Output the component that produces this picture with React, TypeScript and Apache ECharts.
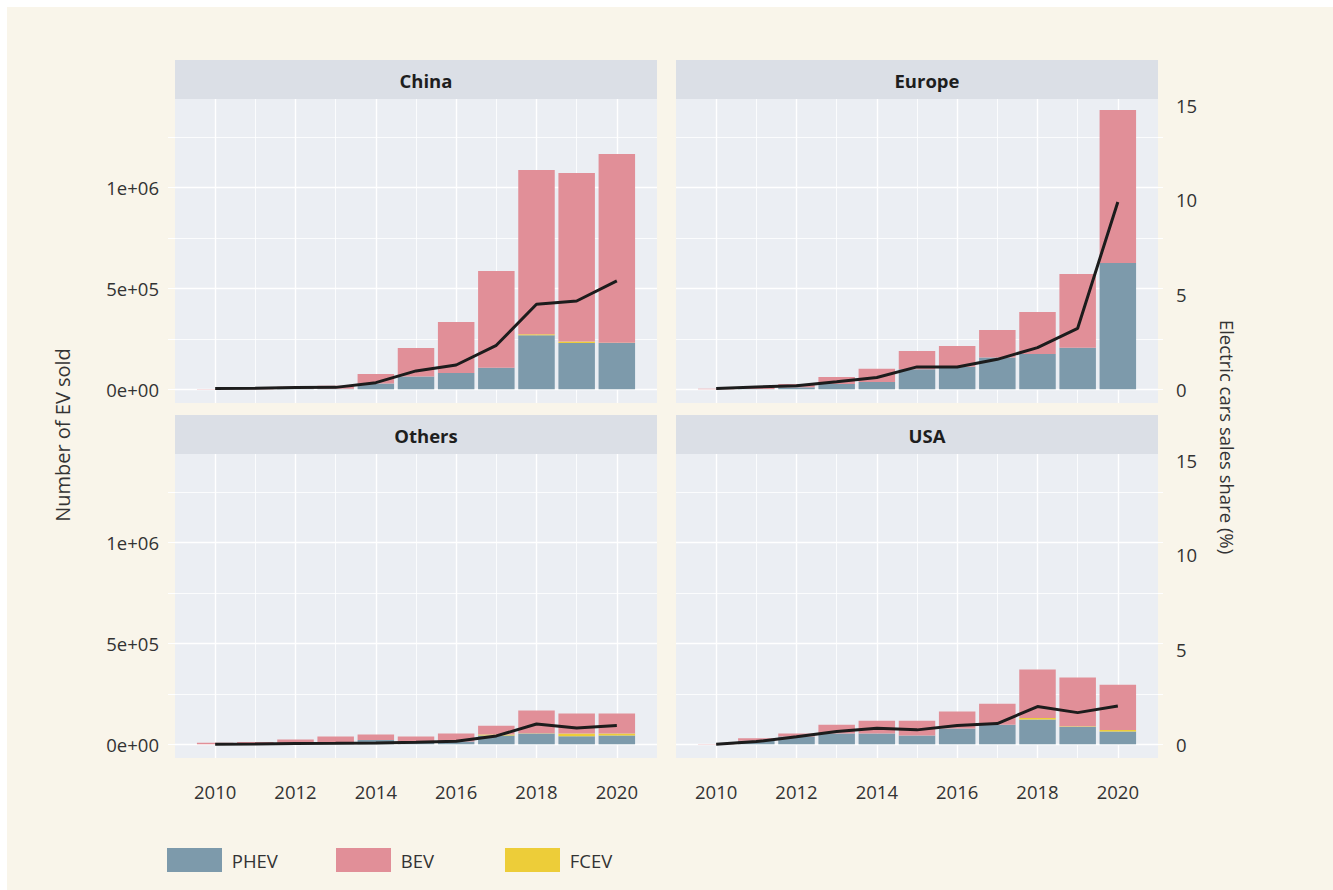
import React, { useEffect, useRef } from 'react';
import * as echarts from 'echarts';

const years = [2010, 2011, 2012, 2013, 2014, 2015, 2016, 2017, 2018, 2019, 2020];
// x scale spans one year beyond the data on each side
const xCategories = ['2009', '2010', '2011', '2012', '2013', '2014', '2015', '2016', '2017', '2018', '2019', '2020', '2021'];
const regions = ['China', 'Europe', 'Others', 'USA'];
const powertrains = ['PHEV', 'FCEV', 'BEV'];
const legendNames = ['PHEV', 'BEV', 'FCEV'];

// Number of EV sold
const chinaPHEV = [0, 0, 2000, 3000, 28000, 63000, 81000, 107000, 268000, 229000, 229000];
const chinaFCEV = [0, 0, 0, 0, 0, 0, 0, 0, 4000, 8000, 1000];
const chinaBEV = [1000, 5000, 10000, 15000, 48000, 141000, 252000, 479000, 814000, 834000, 935000];

const europePHEV = [0, 1000, 10000, 26000, 36000, 99000, 112000, 157000, 175000, 205000, 625000];
const europeFCEV = [0, 0, 0, 0, 0, 0, 0, 0, 0, 0, 0];
const europeBEV = [3000, 9000, 16000, 35000, 65000, 91000, 102000, 137000, 208000, 366000, 758000];

const othersPHEV = [0, 1000, 5000, 11000, 21000, 12000, 14000, 43000, 53000, 40000, 43000];
const othersFCEV = [0, 0, 0, 0, 0, 0, 0, 5000, 1000, 13000, 10000];
const othersBEV = [8000, 10000, 18000, 27000, 27000, 26000, 39000, 44000, 113000, 99000, 99000];

const usaPHEV = [300, 18000, 38000, 53000, 53000, 43000, 78000, 97000, 122000, 87000, 63000];
const usaFCEV = [0, 0, 0, 0, 0, 0, 0, 0, 8000, 2000, 8000];
const usaBEV = [700, 12000, 15000, 44000, 64000, 74000, 84000, 104000, 240000, 241000, 224000];

// Electric cars sales share (%)
const chinaShare = [0.04, 0.05, 0.09, 0.1, 0.35, 0.97, 1.28, 2.32, 4.49, 4.66, 5.72];
const europeShare = [0.04, 0.12, 0.19, 0.4, 0.62, 1.18, 1.18, 1.58, 2.2, 3.22, 9.89];
const othersShare = [0, 0.01, 0.04, 0.05, 0.07, 0.1, 0.16, 0.44, 1.07, 0.86, 0.99];
const usaShare = [0, 0.14, 0.4, 0.67, 0.84, 0.76, 0.99, 1.09, 1.99, 1.67, 2.02];

// Axis ticks
const yTickMajor = [0, 500000, 1000000];
const yTickMinor = [250000, 750000, 1250000];
const shareTickLabels = [0, 5, 10, 15];
const xTickMajor = ['2010', '2012', '2014', '2016', '2018', '2020'];
const xTickMinor = ['2011', '2013', '2015', '2017', '2019'];

const Y_MIN = -68000;
const Y_MAX = 1437000;
const SHARE_SCALE = 93762; // EV sold per percentage point on the secondary axis

const salesByRegion: Record<string, Record<string, number[]>> = {
  China: { PHEV: chinaPHEV, FCEV: chinaFCEV, BEV: chinaBEV },
  Europe: { PHEV: europePHEV, FCEV: europeFCEV, BEV: europeBEV },
  Others: { PHEV: othersPHEV, FCEV: othersFCEV, BEV: othersBEV },
  USA: { PHEV: usaPHEV, FCEV: usaFCEV, BEV: usaBEV },
};
const shareByRegion: Record<string, number[]> = {
  China: chinaShare,
  Europe: europeShare,
  Others: othersShare,
  USA: usaShare,
};

const COLORS: Record<string, string> = { PHEV: '#7d9aab', BEV: '#e18f98', FCEV: '#edcd39' };
const FONT = "'Open Sans', sans-serif";
const TEXT = '#333333';
const PANEL_BG = '#ebeef3';
const STRIP_BG = '#dbdfe6';
const GRID_W = 482;
const GRID_H = 304;
const STRIP_H = 39;
const GRID_LEFTS = [175, 676];
const GRID_TOPS = [99, 454];

const sci = (v: number) => {
  if (v === 0) return '0e+00';
  const e = Math.floor(Math.log10(Math.abs(v)));
  const m = Math.round(v / Math.pow(10, e));
  return `${m}e+${String(e).padStart(2, '0')}`;
};

const onCategories = (vals: number[]) =>
  xCategories.map((c) => {
    const k = years.indexOf(Number(c));
    return k < 0 ? null : vals[k];
  });

function buildOption() {
  const grid: any[] = [];
  const xAxis: any[] = [];
  const yAxis: any[] = [];
  const series: any[] = [];
  const graphic: any[] = [];

  const isMajorX = (_i: number, v: string) => xTickMajor.includes(String(v));
  const isMinorX = (_i: number, v: string) => xTickMinor.includes(String(v));

  regions.forEach((region, i) => {
    const col = i % 2;
    const row = Math.floor(i / 2);
    const left = GRID_LEFTS[col];
    const top = GRID_TOPS[row];
    grid.push({
      left,
      top,
      width: GRID_W,
      height: GRID_H,
      show: true,
      backgroundColor: PANEL_BG,
      borderWidth: 0,
      containLabel: false,
    });

    const tickStyle = { color: '#ffffff', width: 1 };
    // major x axis
    xAxis.push({
      type: 'category',
      data: xCategories,
      boundaryGap: false,
      gridIndex: i,
      position: 'bottom',
      axisLine: { show: false },
      axisTick: { show: true, length: 3, lineStyle: tickStyle, interval: isMajorX },
      axisLabel: {
        show: row === 1,
        interval: isMajorX,
        margin: 24,
        fontSize: 18.5,
        color: TEXT,
        fontFamily: FONT,
      },
      splitLine: { show: true, interval: isMajorX, lineStyle: { color: '#ffffff', width: 1.4 } },
    });
    // minor x axis
    xAxis.push({
      type: 'category',
      data: xCategories,
      boundaryGap: false,
      gridIndex: i,
      position: 'bottom',
      axisLine: { show: false },
      axisTick: { show: true, length: 3, lineStyle: tickStyle, interval: isMinorX },
      axisLabel: { show: false },
      splitLine: { show: true, interval: isMinorX, lineStyle: { color: '#ffffff', width: 0.8 } },
    });
    // major y axis
    yAxis.push({
      type: 'value',
      gridIndex: i,
      position: 'left',
      min: Y_MIN,
      max: Y_MAX,
      axisLine: { show: false },
      axisTick: { show: col === 0, length: 7, lineStyle: tickStyle, customValues: yTickMajor },
      axisLabel: {
        show: col === 0,
        customValues: yTickMajor,
        margin: 16,
        fontSize: 18.5,
        color: TEXT,
        fontFamily: FONT,
        formatter: (v: number) => sci(v),
      },
      splitLine: { show: true, lineStyle: { color: '#ffffff', width: 1.4 } },
    });
    // minor y axis
    yAxis.push({
      type: 'value',
      gridIndex: i,
      position: 'left',
      min: Y_MIN,
      max: Y_MAX,
      axisLine: { show: false },
      axisTick: { show: col === 0, length: 7, lineStyle: tickStyle, customValues: yTickMinor },
      axisLabel: { show: false },
      splitLine: { show: true, lineStyle: { color: '#ffffff', width: 0.8 } },
    });
    // secondary share axis
    yAxis.push({
      type: 'value',
      gridIndex: i,
      position: 'right',
      min: Y_MIN / SHARE_SCALE,
      max: Y_MAX / SHARE_SCALE,
      axisLine: { show: false },
      axisTick: {
        show: col === 1,
        length: 5,
        lineStyle: tickStyle,
        customValues: [...yTickMajor, ...yTickMinor].map((v) => v / SHARE_SCALE),
      },
      axisLabel: {
        show: col === 1,
        customValues: shareTickLabels,
        margin: 18,
        fontSize: 18.5,
        color: TEXT,
        fontFamily: FONT,
        formatter: (v: number) => String(Math.round(v)),
      },
      splitLine: { show: false },
    });

    const sales = salesByRegion[region];
    powertrains.forEach((p) => {
      series.push({
        type: 'bar',
        name: p,
        xAxisIndex: 2 * i,
        yAxisIndex: 3 * i,
        stack: 'stack' + i,
        barWidth: 36.5,
        silent: true,
        itemStyle: { color: COLORS[p] },
        data: onCategories(sales[p]),
      });
    });
    series.push({
      type: 'line',
      name: 'share',
      xAxisIndex: 2 * i,
      yAxisIndex: 3 * i + 2,
      showSymbol: false,
      symbol: 'none',
      silent: true,
      z: 5,
      lineStyle: { color: '#1c1c1c', width: 3 },
      data: onCategories(shareByRegion[region]),
    });

    // facet strip
    graphic.push({
      type: 'rect',
      shape: { x: left, y: top - STRIP_H, width: GRID_W, height: STRIP_H },
      style: { fill: STRIP_BG },
      silent: true,
    });
    graphic.push({
      type: 'text',
      x: left + GRID_W / 2 + 10,
      y: top - STRIP_H / 2 + 1,
      silent: true,
      style: {
        text: region,
        fill: '#1e1e1e',
        font: `bold 18.5px ${FONT}`,
        textAlign: 'center',
        textVerticalAlign: 'middle',
      },
    });
  });

  graphic.push({
    type: 'text',
    x: 62,
    y: 435,
    rotation: Math.PI / 2,
    silent: true,
    style: {
      text: 'Number of EV sold',
      fill: TEXT,
      font: `20px ${FONT}`,
      textAlign: 'center',
      textVerticalAlign: 'middle',
    },
  });
  graphic.push({
    type: 'text',
    x: 1227,
    y: 437,
    rotation: -Math.PI / 2,
    silent: true,
    style: {
      text: 'Electric cars sales share (%)',
      fill: TEXT,
      font: `18.5px ${FONT}`,
      textAlign: 'center',
      textVerticalAlign: 'middle',
    },
  });

  const legendLefts = [167, 336, 505];
  const legend = legendNames.map((name, k) => ({
    data: [name],
    left: legendLefts[k],
    top: 848,
    padding: 0,
    itemWidth: 55,
    itemHeight: 24,
    icon: 'rect',
    selectedMode: false,
    formatter: (n: string) => ' ' + n,
    textStyle: { fontSize: 18.5, color: TEXT, fontFamily: FONT },
  }));

  return {
    animation: false,
    backgroundColor: 'transparent',
    textStyle: { fontFamily: FONT },
    grid,
    xAxis,
    yAxis,
    series,
    legend,
    graphic,
  };
}

export default function App() {
  const ref = useRef<HTMLDivElement>(null);
  useEffect(() => {
    if (!ref.current) return;
    const chart = echarts.init(ref.current, undefined, { renderer: 'svg' });
    chart.setOption(buildOption() as any);
    return () => chart.dispose();
  }, []);
  return (
    <div
      ref={ref}
      style={{
        position: 'fixed',
        left: 0,
        top: 0,
        width: 1333,
        height: 890,
        background: 'linear-gradient(#f9f5ea, #f9f5ea) 7px 7px / 1326px 883px no-repeat, #ffffff',
      }}
    />
  );
}
